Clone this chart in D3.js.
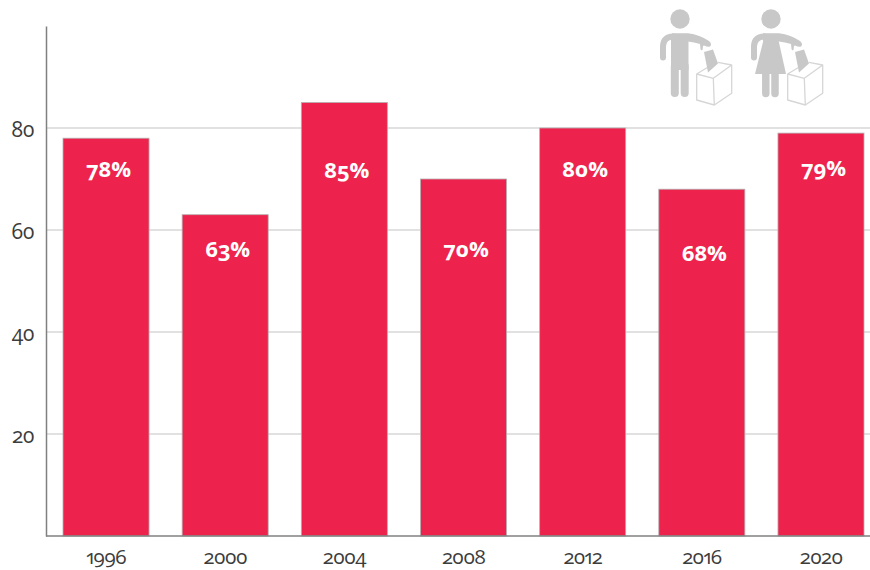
<!DOCTYPE html>
<html>
<head>
<meta charset="utf-8">
<script src="https://cdn.jsdelivr.net/npm/d3@7"></script>
<style>
  html, body { margin: 0; padding: 0; background: #fff; }
  svg { display: block; }
  text { font-family: "Open Sans", sans-serif; font-feature-settings: "onum" 1, "pnum" 1; }
</style>
</head>
<body>
<div id="chart"></div>
<script>
// Voter turnout by election year
const years = ["1996", "2000", "2004", "2008", "2012", "2016", "2020"];
const turnout = [78, 63, 85, 70, 80, 68, 79];
const yTicks = [20, 40, 60, 80];
// Distance of each percentage label below the top of its bar
const labelDrop = [32, 35, 68, 71, 42, 65, 36];

const width = 870, height = 570;
const svg = d3.select("#chart").append("svg").attr("width", width).attr("height", height);

const y = d3.scaleLinear().domain([0, 100]).range([536, 26]);
const x = d3.scaleBand().domain(years).range([63, 864]).paddingInner(0.278).paddingOuter(0);

// Horizontal gridlines sit behind the bars
svg.append("g").selectAll("line").data(yTicks).join("line")
  .attr("x1", 46).attr("x2", 870)
  .attr("y1", d => y(d)).attr("y2", d => y(d))
  .attr("stroke", "#c4c4c4").attr("stroke-width", 1.2);

// Bars
svg.append("g").selectAll("rect").data(turnout).join("rect")
  .attr("x", (d, i) => x(years[i]))
  .attr("y", d => y(d))
  .attr("width", x.bandwidth())
  .attr("height", d => y(0) - y(d))
  .attr("fill", "#ee234d")
  .attr("stroke", "#b5b0b0").attr("stroke-width", 0.8);

// Value labels inside the bars
svg.append("g").selectAll("text").data(turnout).join("text")
  .attr("x", (d, i) => x(years[i]) + x.bandwidth() / 2 + 2.5)
  .attr("y", (d, i) => y(d) + labelDrop[i])
  .attr("dy", "0.32em")
  .attr("text-anchor", "middle")
  .attr("fill", "#fff").attr("font-size", 22).attr("font-weight", 700)
  .text(d => d + "%");

// Axes
const yAxis = d3.axisLeft(y).tickValues(yTicks).tickSize(0).tickPadding(12);
const gy = svg.append("g").attr("transform", "translate(46,0)").call(yAxis);
gy.select(".domain").attr("stroke", "#808080").attr("stroke-width", 1.5);
gy.selectAll("text").attr("font-size", 21).attr("letter-spacing", -0.8)
  .attr("fill", "#3c3c3c").attr("dy", "0.42em");

const xAxis = d3.axisBottom(x).tickSize(0).tickPadding(12);
const gx = svg.append("g").attr("transform", "translate(0,536)").call(xAxis);
gx.select(".domain").attr("d", "M46,0H870").attr("stroke", "#808080").attr("stroke-width", 1.5);
gx.selectAll("text").attr("font-size", 20.5).attr("letter-spacing", -0.9)
  .attr("fill", "#3c3c3c").attr("dy", "0.8em");

// Voter pictograms
const grey = "#c8c8c8", boxStroke = "#d6d6d6";

function ballotBox(g) {
  g.append("path").attr("fill", "#fff").attr("stroke", boxStroke).attr("stroke-width", 1.3)
    .attr("stroke-linejoin", "round")
    .attr("d", "M56.7,74 L73.3,78.3 L74.3,105 L56.7,100 Z M73.3,78.3 L91.7,65 L91.7,93.3 L74.3,105 M56.7,74 L69,66.5 M78,62.3 L91.7,65");
  g.append("path").attr("fill", grey).attr("d", "M64,52 L73,49.5 L78,63.5 L68,72.5 Z");
}

function voter(g, dress) {
  g.append("circle").attr("cx", 40).attr("cy", 19).attr("r", 9.7).attr("fill", grey);
  // Left arm hanging from the shoulder
  g.append("path").attr("fill", "none").attr("stroke", grey).attr("stroke-width", 6)
    .attr("stroke-linecap", "round")
    .attr("d", "M23,57.5 L23,46 Q23.5,37 33,36.5");
  // Right arm reaching out towards the box
  g.append("path").attr("fill", grey)
    .attr("d", "M32,33.3 L48,33.3 Q60,35 69,41 Q72.5,44 70,46.5 Q68,47.5 64,45.5 L63,46 L62.5,50 Q61,51 60.5,49 L60,44 Q54,42 48,41.5 L32,41.5 Z");
  if (dress) {
    g.append("path").attr("fill", grey).attr("d", "M33,38 L47,38 L55,74 L24,74 Z");
    g.append("path").attr("fill", "none").attr("stroke", grey).attr("stroke-width", 7.5)
      .attr("stroke-linecap", "round").attr("d", "M34.8,72 V93.5 M44,72 V93.5");
  } else {
    g.append("path").attr("fill", grey).attr("d", "M31,36 L48.5,36 L48.5,70 L31,70 Z");
    g.append("path").attr("fill", "none").attr("stroke", grey).attr("stroke-width", 8)
      .attr("stroke-linecap", "round").attr("d", "M34.8,66 V93 M44.7,66 V93");
  }
}

const manIcon = svg.append("g").attr("transform", "translate(640,0)");
voter(manIcon, false); ballotBox(manIcon);
const womanIcon = svg.append("g").attr("transform", "translate(731,0)");
voter(womanIcon, true); ballotBox(womanIcon);
</script>
</body>
</html>
